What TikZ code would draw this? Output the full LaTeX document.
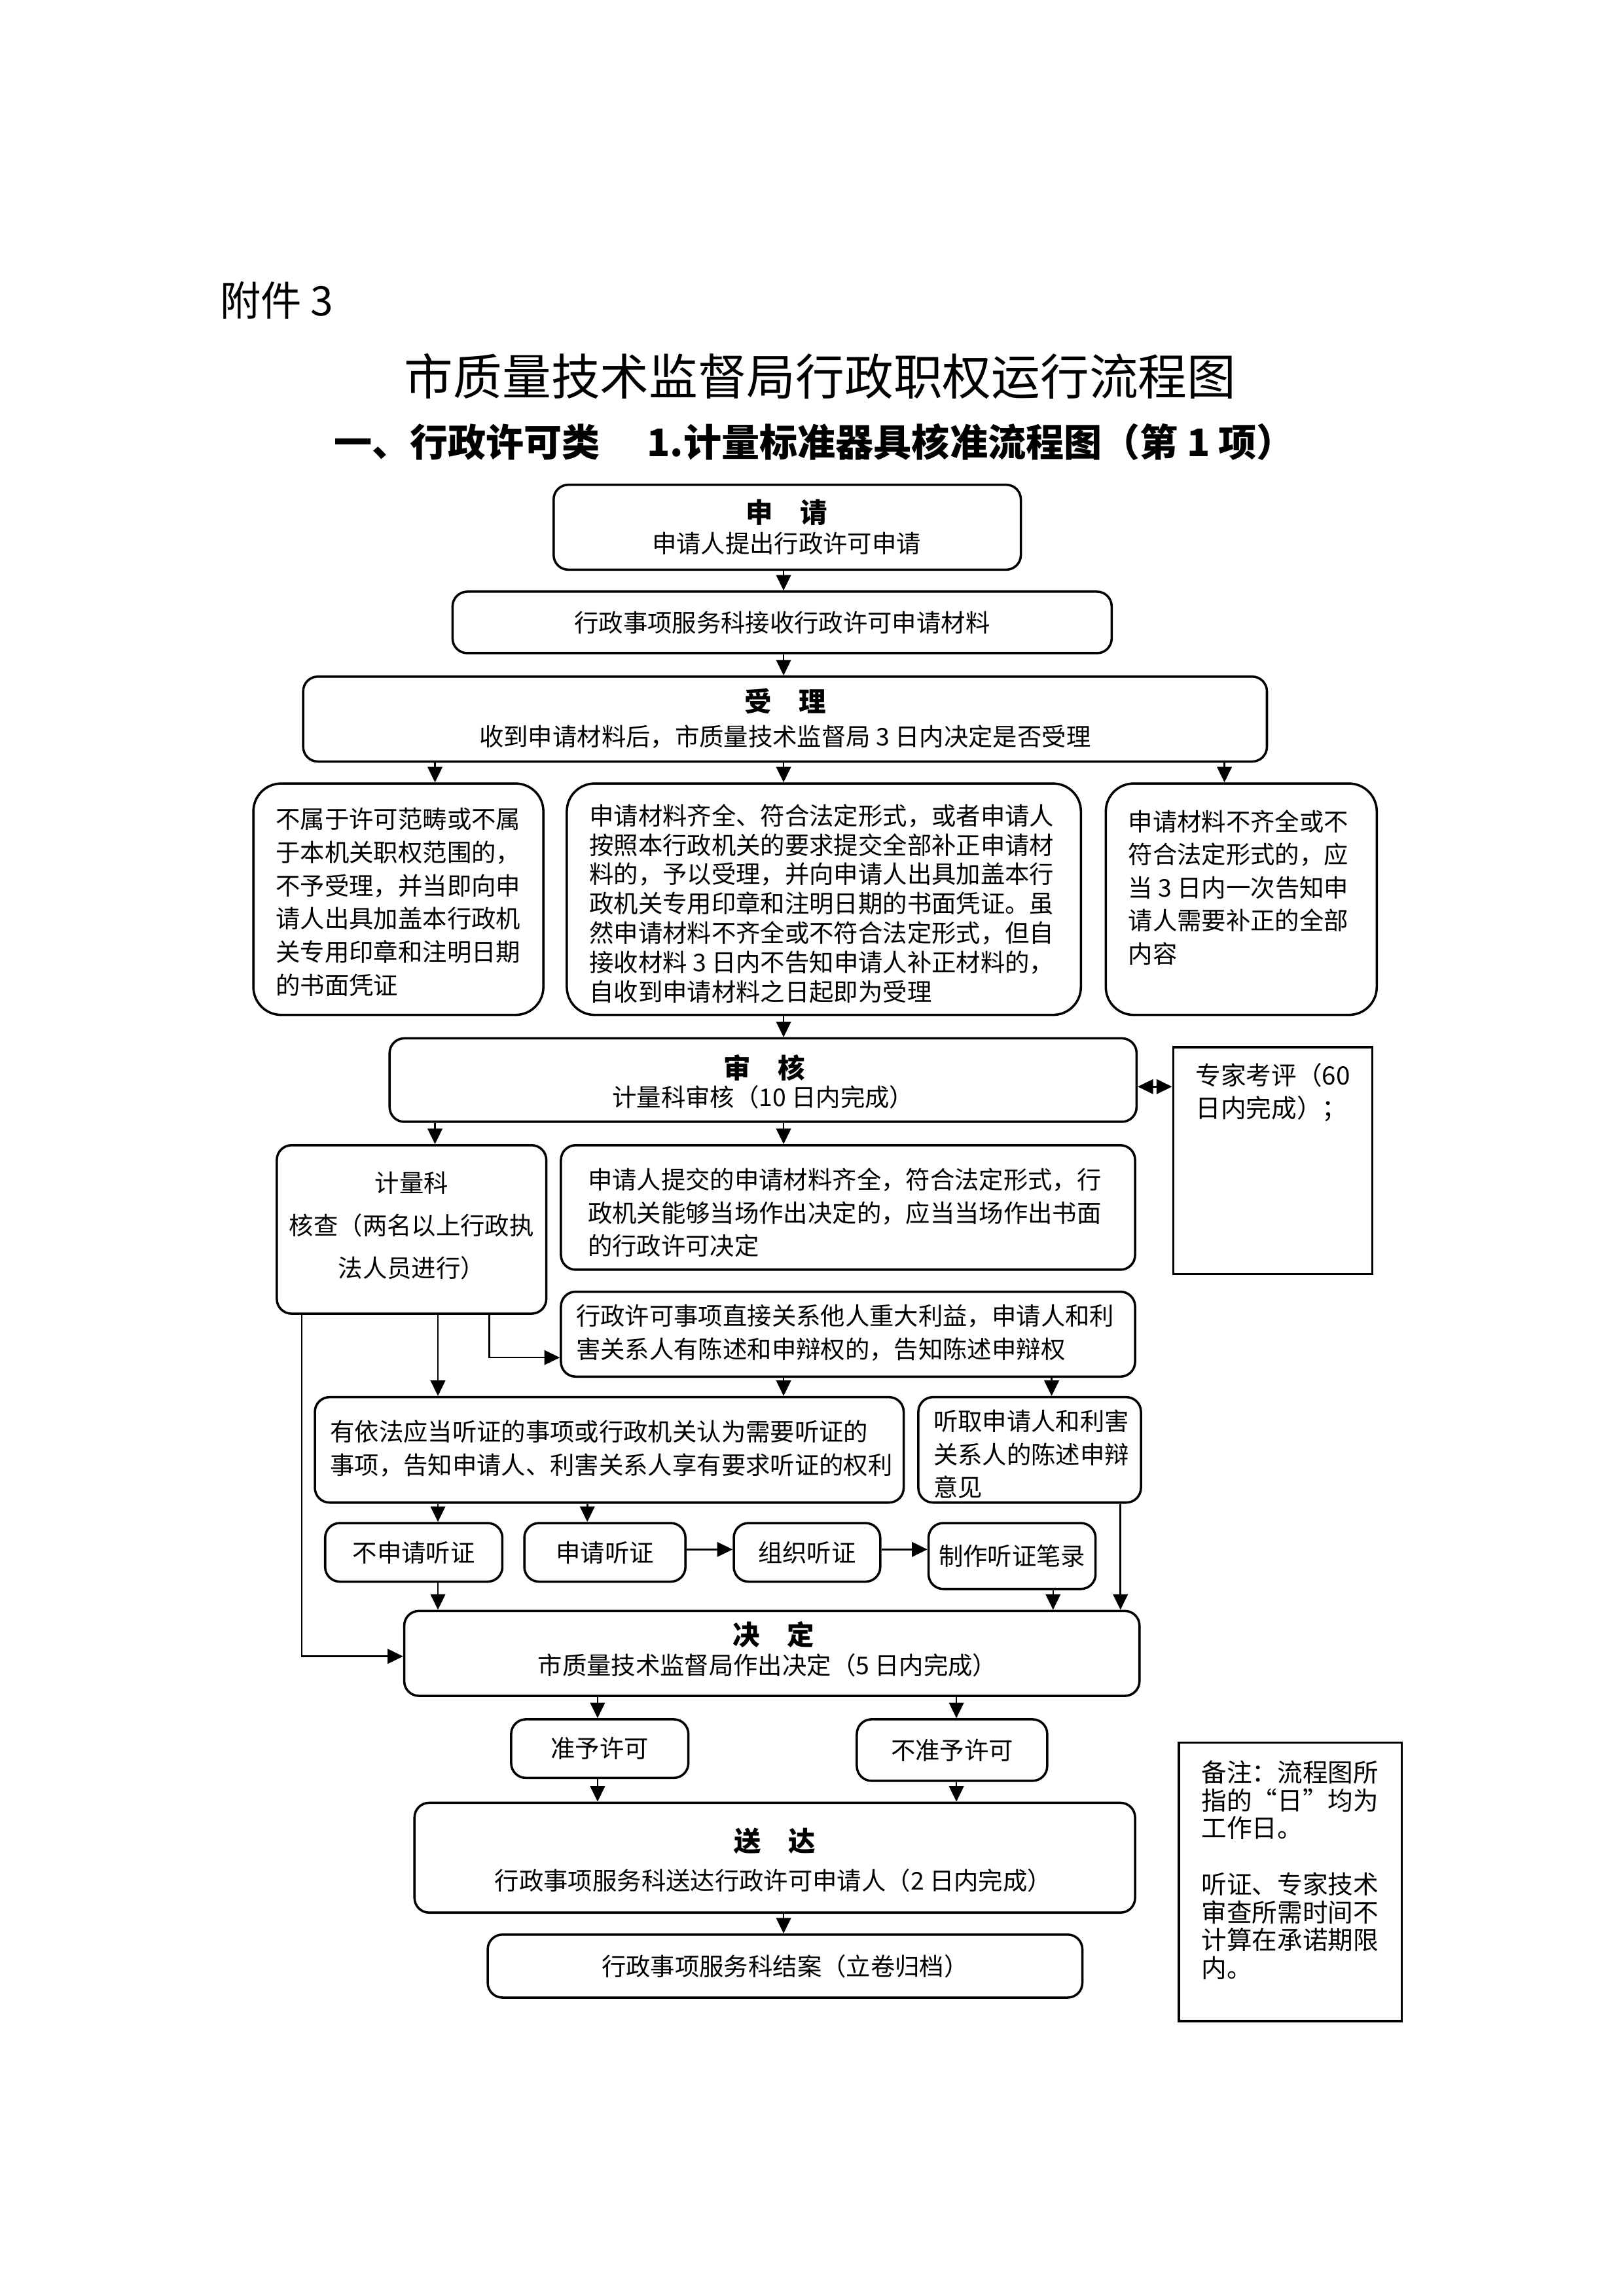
\documentclass[tikz,border=0pt]{standalone}
\usepackage{fontspec}
\setmainfont{Noto Sans CJK SC}
\usetikzlibrary{arrows.meta}
\newcommand{\uu}{0.18944mm}
\newcommand{\fbody}{\fontsize{9}{12.2}\selectfont}
\newcommand{\fttl}{\fontsize{10}{12}\selectfont\bfseries}
\newcommand{\bx}[7]{\node[#1, minimum width={(#5-#3)*\uu}, minimum height={(#6-#4)*\uu}] (#2) at ({(#3+#5)/2},{(#4+#6)/2}) {#7};}
\begin{document}
\begin{tikzpicture}[x=\uu, y=-\uu,
  box/.style={draw, line width=0.85pt, rounded corners=1.9mm, inner sep=0pt, font=\fbody, align=center},
  rbox/.style={box, rounded corners=3.6mm},
  sbox/.style={draw, line width=0.85pt, inner sep=0pt, font=\fbody},
  txt/.style={inner sep=0pt, font=\fbody, align=left},
  ttl/.style={inner sep=0pt, font=\fttl},
  arr/.style={-{Triangle[length=2mm,width=1.9mm]}, line width=0.6pt},
  darr/.style={{Triangle[length=2mm,width=1.9mm]}-{Triangle[length=2mm,width=1.9mm]}, line width=0.6pt}]
\fill[white] (0,0) rectangle (1108.5,1567.8);
\useasboundingbox (0,0) rectangle (1108.5,1567.8);

% headings
\node[anchor=west, font=\fontsize{15}{16}\selectfont, inner sep=0pt] (fj) at (150,205) {附件 3};
\node[font=\fontsize{18}{20}\selectfont, inner sep=0pt] (title) at (560,257) {市质量技术监督局行政职权运行流程图};
\node[font=\fontsize{14}{16}\selectfont\bfseries, inner sep=0pt] (subtitle) at (556,302) {一、行政许可类　 1.计量标准器具核准流程图（第 1 项）};

% boxes
\bx{box}{b1}{378}{331}{697}{389}{}
\node[ttl] (t1) at (537,350) {申　请};
\node[txt] (s1) at (537,371) {申请人提出行政许可申请};

\bx{box}{b2}{309}{404}{759}{446}{行政事项服务科接收行政许可申请材料}

\bx{box}{b3}{207}{462}{865}{520}{}
\node[ttl] (t3) at (536,479) {受　理};
\node[txt] (s3) at (536,503) {收到申请材料后，市质量技术监督局 3 日内决定是否受理};

\bx{rbox}{b4}{173}{535}{371}{693}{}
\node[txt, anchor=west] (x4) at (188,616) {不属于许可范畴或不属\\于本机关职权范围的，\\不予受理，并当即向申\\请人出具加盖本行政机\\关专用印章和注明日期\\的书面凭证};

\bx{rbox}{b5}{387}{535}{738}{693}{}
\node[txt, anchor=west, font=\fontsize{9}{10.8}\selectfont] (x5) at (402,617) {申请材料齐全、符合法定形式，或者申请人\\按照本行政机关的要求提交全部补正申请材\\料的，予以受理，并向申请人出具加盖本行\\政机关专用印章和注明日期的书面凭证。虽\\然申请材料不齐全或不符合法定形式，但自\\接收材料 3 日内不告知申请人补正材料的，\\自收到申请材料之日起即为受理};

\bx{rbox}{b6}{755}{535}{940}{693}{}
\node[txt, anchor=west] (x6) at (770,606) {申请材料不齐全或不\\符合法定形式的，应\\当 3 日内一次告知申\\请人需要补正的全部\\内容};

\bx{box}{b7}{266}{709}{776}{766}{}
\node[ttl] (t7) at (522,729) {审　核};
\node[txt] (s7) at (521,749) {计量科审核（10 日内完成）};

\bx{sbox}{b8}{801}{715}{937}{870}{}
\node[txt, anchor=west, font=\fontsize{9.3}{12}\selectfont] (x8) at (816,746) {专家考评（60\\日内完成）；};

\bx{box}{b9}{189}{782}{373}{897}{}
\node[txt, align=center, font=\fontsize{9}{15.7}\selectfont] (x9) at (281,837) {计量科\\核查（两名以上行政执\\法人员进行）};

\bx{box}{b10}{383}{782}{775}{867}{}
\node[txt, anchor=west] (x10) at (401,828) {申请人提交的申请材料齐全，符合法定形式，行\\政机关能够当场作出决定的，应当当场作出书面\\的行政许可决定};

\bx{box}{b11}{383}{882}{775}{940}{}
\node[txt, anchor=west] (x11) at (393,910) {行政许可事项直接关系他人重大利益，申请人和利\\害关系人有陈述和申辩权的，告知陈述申辩权};

\bx{box}{b12}{215}{954}{617}{1026}{}
\node[txt, anchor=west] (x12) at (225,989) {有依法应当听证的事项或行政机关认为需要听证的\\事项，告知申请人、利害关系人享有要求听证的权利};

\bx{box}{b13}{627}{954}{779}{1026}{}
\node[txt, anchor=west] (x13) at (637,993) {听取申请人和利害\\关系人的陈述申辩\\意见};

\bx{box}{b14}{222}{1040}{343}{1080}{不申请听证}
\bx{box}{b15}{358}{1040}{468}{1080}{申请听证}
\bx{box}{b16}{501}{1040}{601}{1080}{组织听证}
\bx{box}{b17}{634}{1040}{748}{1085}{制作听证笔录}

\bx{box}{b18}{276}{1100}{778}{1158}{}
\node[ttl] (t18) at (528,1116) {决　定};
\node[txt] (s18) at (524,1137) {市质量技术监督局作出决定（5 日内完成）};

\bx{box}{b19}{349}{1174}{470}{1214}{准予许可}
\bx{box}{b20}{585}{1174}{715}{1216}{不准予许可}

\bx{box}{b21}{283}{1231}{775}{1306}{}
\node[ttl] (t21) at (529,1257) {送　达};
\node[txt] (s21) at (528,1284) {行政事项服务科送达行政许可申请人（2 日内完成）};

\bx{box}{b22}{333}{1321}{739}{1364}{行政事项服务科结案（立卷归档）}

\bx{sbox}{b23}{805}{1190}{957}{1380}{}
\node[txt, anchor=west, font=\fontsize{9.3}{10.3}\selectfont] (x23) at (820,1277) {备注：流程图所\\指的“日”均为\\工作日。\\[10.3pt]听证、专家技术\\审查所需时间不\\计算在承诺期限\\内。};

% connectors
\draw[arr] (535,0 |- b1.south) -- (535,0 |- b2.north);
\draw[arr] (535,0 |- b2.south) -- (535,0 |- b3.north);
\draw[arr] (297,0 |- b3.south) -- (297,0 |- b4.north);
\draw[arr] (535,0 |- b3.south) -- (535,0 |- b5.north);
\draw[arr] (836,0 |- b3.south) -- (836,0 |- b6.north);
\draw[arr] (535,0 |- b5.south) -- (535,0 |- b7.north);
\draw[darr] (b7.east |- 0,742) -- (b8.west |- 0,742);
\draw[arr] (297,0 |- b7.south) -- (297,0 |- b9.north);
\draw[arr] (535,0 |- b7.south) -- (535,0 |- b10.north);
\draw[arr] (206,0 |- b9.south) |- (b18.west |- 0,1131);
\draw[arr] (299,0 |- b9.south) -- (299,0 |- b12.north);
\draw[arr] (334,0 |- b9.south) |- (b11.west |- 0,927);
\draw[arr] (535,0 |- b11.south) -- (535,0 |- b12.north);
\draw[arr] (718,0 |- b11.south) -- (718,0 |- b13.north);
\draw[arr] (299,0 |- b12.south) -- (299,0 |- b14.north);
\draw[arr] (401,0 |- b12.south) -- (401,0 |- b15.north);
\draw[arr] (b15.east |- 0,1058) -- (b16.west |- 0,1058);
\draw[arr] (b16.east |- 0,1058) -- (b17.west |- 0,1058);
\draw[arr] (299,0 |- b14.south) -- (299,0 |- b18.north);
\draw[arr] (719,0 |- b17.south) -- (719,0 |- b18.north);
\draw[arr] (765,0 |- b13.south) -- (765,0 |- b18.north);
\draw[arr] (408,0 |- b18.south) -- (408,0 |- b19.north);
\draw[arr] (653,0 |- b18.south) -- (653,0 |- b20.north);
\draw[arr] (408,0 |- b19.south) -- (408,0 |- b21.north);
\draw[arr] (653,0 |- b20.south) -- (653,0 |- b21.north);
\draw[arr] (535,0 |- b21.south) -- (535,0 |- b22.north);
\end{tikzpicture}
\end{document}
